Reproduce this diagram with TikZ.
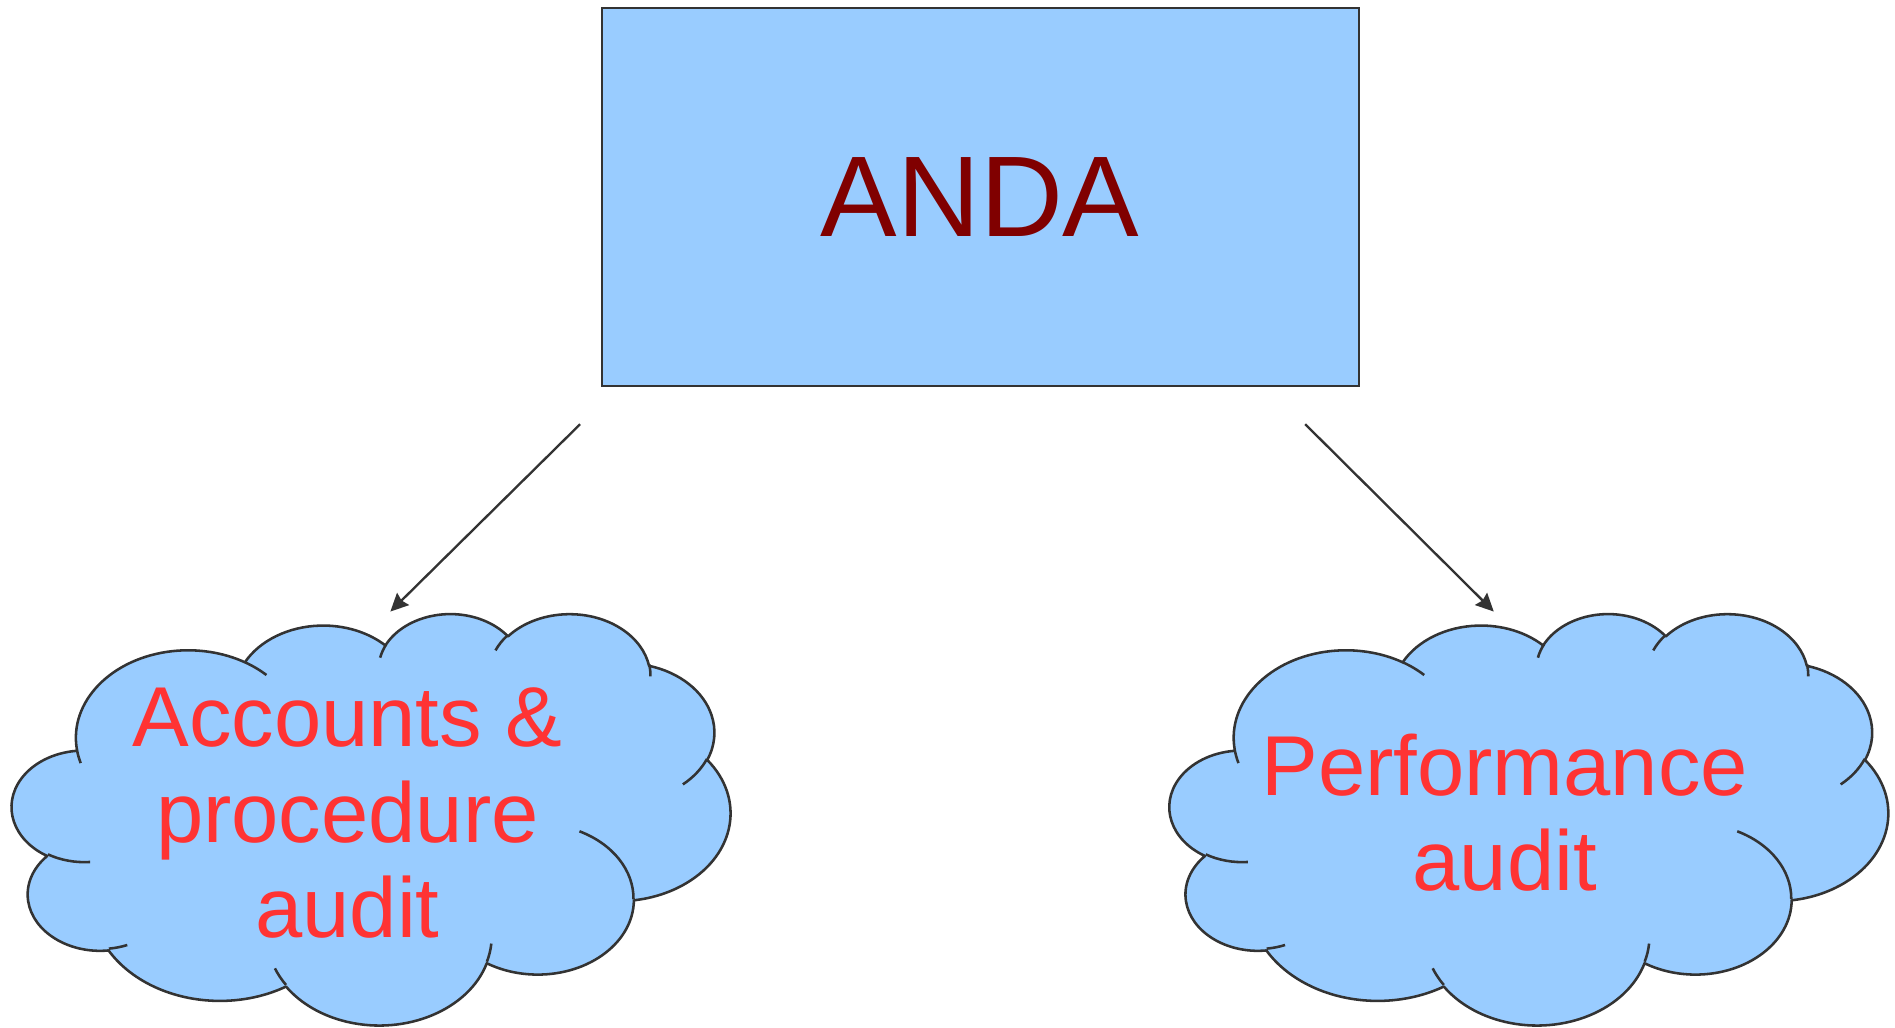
\documentclass[tikz,border=0pt]{standalone}
\usepackage{fontspec}
\setmainfont{Liberation Sans}
\usetikzlibrary{arrows.meta}
\definecolor{boxblue}{HTML}{99CCFF}
\definecolor{edgegray}{HTML}{333333}
\definecolor{andared}{HTML}{800000}
\definecolor{cloudred}{HTML}{FF3333}
% elliptical arc with OOXML-style (visual) angles
\newcommand\oarc[4]{arc[x radius=#1, y radius=#2, start angle={atan2(#1*sin(#3),#2*cos(#3))}, delta angle={mod(atan2(#1*sin(#3+#4),#2*cos(#3+#4))-atan2(#1*sin(#3),#2*cos(#3))+720,360)}]}
\newcommand\cloudbody{%
  \path[cloudfill] (39.00,143.70) \oarc{67.53}{91.90}{-190.4875}{123.7805}
    \oarc{53.33}{72.67}{-144.1024}{89.9452}
    \oarc{43.65}{59.45}{-145.8079}{99.7230}
    \oarc{48.57}{65.95}{-130.9861}{117.2417}
    \oarc{53.33}{72.73}{-78.7089}{109.0269}
    \oarc{67.75}{92.20}{-46.2673}{130.2690}
    \oarc{57.85}{78.67}{0.6250}{114.0333}
    \oarc{67.52}{92.15}{22.4516}{115.1726}
    \oarc{77.20}{105.43}{66.2426}{75.7110}
    \oarc{43.60}{59.18}{-274.9421}{146.7356}
    \oarc{43.45}{59.45}{-246.8285}{152.5189} -- cycle;
  \path[cloudinner]
    (46.93,261.77) \oarc{43.45}{59.45}{86.7420}{26.4295}
    (69.28,348.99) \oarc{43.60}{59.18}{73.6105}{11.4475}
    (164.78,390.90) \oarc{67.52}{92.15}{137.6242}{14.0811}
    (288.27,347.51) \oarc{67.52}{92.15}{6.4533}{15.9984}
    (341.29,229.54) \oarc{57.85}{78.67}{-70.2924}{70.9174}
    (417.98,153.54) \oarc{53.33}{72.73}{30.3180}{27.7515}
    (383.24,54.26) \oarc{48.57}{65.95}{-13.7443}{14.8589}
    (290.78,39.52) \oarc{48.57}{65.95}{-149.1815}{18.1954}
    (221.41,47.20) \oarc{43.65}{59.45}{-163.4943}{17.6864}
    (140.00,51.92) \oarc{67.53}{91.90}{-66.7070}{12.3194}
    (41.27,157.89) \oarc{67.53}{91.90}{157.6544}{11.8582};
}
\tikzset{
  cloudfill/.style={fill=boxblue, draw=edgegray, line width=0.6pt, line join=round},
  cloudinner/.style={draw=edgegray, line width=0.6pt},
  boxstyle/.style={rectangle, draw=edgegray, fill=boxblue, line width=0.5pt, inner sep=0pt,
    minimum width=6.26cm, minimum height=3.12cm, text=andared, font=\fontsize{27}{32}\selectfont},
  conn/.style={draw=edgegray, line width=0.55pt, -{Stealth[length=4.2pt,width=4pt,inset=0.5pt]}},
  cloudtext/.style={text=cloudred, font=\fontsize{20}{22.5}\selectfont, align=center, inner sep=0pt}
}
\begin{document}
\begin{tikzpicture}[x=0.01cm, y=-0.01cm]
  \useasboundingbox (0,0) rectangle (1568,850);
  \node[boxstyle] (anda) at (811,163) {ANDA};
  \begin{scope}[shift={(10,507)}, x=0.01375cm, y=-0.0078704cm]
    \cloudbody
  \end{scope}
  \begin{scope}[shift={(968,507)}, x=0.01375cm, y=-0.0078704cm]
    \cloudbody
  \end{scope}
  \node[cloudtext, anchor=base] (acc) at (287.5,776) {Accounts \&\\procedure\\audit};
  \node[cloudtext, anchor=base] (perf) at (1245,737) {Performance\\audit};
  \coordinate (s1) at (480,351);
  \coordinate (e1) at (323,506);
  \coordinate (s2) at (1080,351);
  \coordinate (e2) at (1236,506);
  \draw[conn] (s1) -- (e1);
  \draw[conn] (s2) -- (e2);
\end{tikzpicture}
\end{document}
